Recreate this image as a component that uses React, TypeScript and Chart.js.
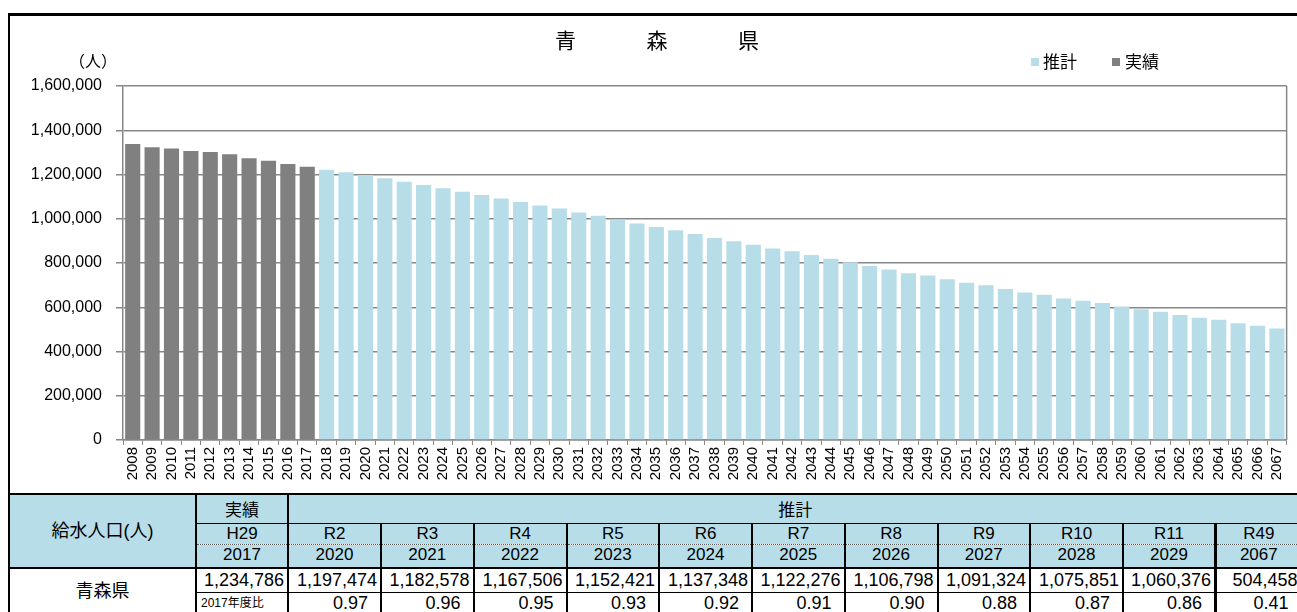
import React, { useEffect, useRef } from 'react';
import { Chart, registerables } from 'chart.js';

Chart.register(...registerables);

// ---------- data ----------
const categories = [
  '2008', '2009', '2010', '2011', '2012', '2013', '2014', '2015', '2016', '2017',
  '2018', '2019', '2020', '2021', '2022', '2023', '2024', '2025', '2026', '2027',
  '2028', '2029', '2030', '2031', '2032', '2033', '2034', '2035', '2036', '2037',
  '2038', '2039', '2040', '2041', '2042', '2043', '2044', '2045', '2046', '2047',
  '2048', '2049', '2050', '2051', '2052', '2053', '2054', '2055', '2056', '2057',
  '2058', '2059', '2060', '2061', '2062', '2063', '2064', '2065', '2066', '2067',
];

// 実績 2008-2017
const actualValues = [
  1338000, 1323000, 1317000, 1306000, 1302000, 1291000, 1273000, 1262000, 1247000, 1234786,
];

// 推計 2018-2067
const estimateValues = [
  1222000, 1210000, 1197474, 1182578, 1167506, 1152421, 1137348, 1122276, 1106798, 1091324,
  1075851, 1060376, 1046000, 1028000, 1013000, 997000, 979000, 963000, 948000, 931000,
  913000, 898000, 883000, 866000, 853000, 836000, 819000, 803000, 787000, 771000,
  754000, 743000, 727000, 711000, 700000, 683000, 667000, 656000, 640000, 629000,
  619000, 603000, 591000, 580000, 565000, 553000, 543000, 528000, 516000, 504458,
];

const yTickValues = [0, 200000, 400000, 600000, 800000, 1000000, 1200000, 1400000, 1600000];

const titleText = '青森県';
const unitLabel = '（人）';
const actualLabel = '実績';
const estimateLabel = '推計';

const tableLabel = '給水人口(人)';
const tableRowLabel = '青森県';
const tableRatioLabel = '2017年度比';
const tableEras = ['H29', 'R2', 'R3', 'R4', 'R5', 'R6', 'R7', 'R8', 'R9', 'R10', 'R11', 'R49'];
const tableYears = ['2017', '2020', '2021', '2022', '2023', '2024', '2025', '2026', '2027', '2028', '2029', '2067'];
const tableValues = [
  '1,234,786', '1,197,474', '1,182,578', '1,167,506', '1,152,421', '1,137,348',
  '1,122,276', '1,106,798', '1,091,324', '1,075,851', '1,060,376', '504,458',
];
const tableRatios = ['0.97', '0.96', '0.95', '0.93', '0.92', '0.91', '0.90', '0.88', '0.87', '0.86', '0.41'];

// ---------- styles ----------
const GREY = '#808080';
const BLUE = '#b7dde8';
const GRID = '#878787';
const SANS = '"Liberation Sans", Arial, sans-serif';
const CJK = '"Noto Sans CJK JP", sans-serif';
const TFONT = '"Liberation Sans", "Noto Sans CJK JP", sans-serif';

const decorPlugin = {
  id: 'decor',
  afterDraw(chart: any) {
    const ctx = chart.ctx;
    const a = chart.chartArea;
    ctx.save();
    // right frame of the plot
    ctx.strokeStyle = GRID;
    ctx.lineWidth = 1.5;
    ctx.beginPath();
    ctx.moveTo(a.right, a.top);
    ctx.lineTo(a.right, a.bottom);
    ctx.stroke();

    // title, widely spaced
    ctx.fillStyle = '#000';
    ctx.textAlign = 'center';
    ctx.textBaseline = 'middle';
    ctx.font = `21px ${CJK}`;
    const chars = Array.from(titleText);
    const cx = 647;
    const gap = 91.5;
    chars.forEach((c, i) => {
      ctx.fillText(c, cx + (i - (chars.length - 1) / 2) * gap, 24);
    });

    // unit label
    ctx.font = `16px ${CJK}`;
    ctx.fillText(unitLabel, 83, 45);

    // legend
    ctx.textAlign = 'left';
    ctx.font = `17px ${CJK}`;
    ctx.fillStyle = BLUE;
    ctx.fillRect(1021, 42, 8, 8);
    ctx.fillStyle = '#000';
    ctx.fillText(estimateLabel, 1033, 46);
    ctx.fillStyle = GREY;
    ctx.fillRect(1102, 42, 8, 8);
    ctx.fillStyle = '#000';
    ctx.fillText(actualLabel, 1115, 46);
    ctx.restore();
  },
};

const B = '2px solid #000';
const B1 = '1px solid #000';
const DOT = '1px dotted #555';

const baseCell: React.CSSProperties = {
  padding: 0,
  textAlign: 'center',
  verticalAlign: 'middle',
  lineHeight: '1',
  fontFamily: TFONT,
  fontSize: 17,
  whiteSpace: 'nowrap',
  overflow: 'hidden',
  color: '#000',
};

export default function App() {
  const ref = useRef<HTMLCanvasElement>(null);

  useEffect(() => {
    const actualData = categories.map((_, i) => (i < actualValues.length ? actualValues[i] : null));
    const estimateData = categories.map((_, i) =>
      i >= actualValues.length ? estimateValues[i - actualValues.length] : null,
    );
    const chart = new Chart(ref.current as HTMLCanvasElement, {
      type: 'bar',
      data: {
        labels: categories,
        datasets: [
          {
            label: actualLabel,
            data: actualData,
            backgroundColor: GREY,
            barPercentage: 0.78,
            categoryPercentage: 1.0,
            grouped: false,
          } as any,
          {
            label: estimateLabel,
            data: estimateData,
            backgroundColor: BLUE,
            barPercentage: 0.78,
            categoryPercentage: 1.0,
            grouped: false,
          } as any,
        ],
      },
      options: {
        animation: false,
        responsive: true,
        maintainAspectRatio: false,
        layout: { padding: { top: 70, right: 9, left: 0, bottom: 0 } },
        plugins: {
          legend: { display: false },
          title: { display: false },
          tooltip: { enabled: false },
        },
        scales: {
          x: {
            grid: {
              display: true,
              drawOnChartArea: false,
              drawTicks: true,
              tickLength: 5,
              color: GRID,
              offset: true,
            },
            border: { display: true, color: GRID, width: 1.5 },
            ticks: {
              minRotation: 90,
              maxRotation: 90,
              autoSkip: false,
              padding: 2,
              color: '#000',
              font: { family: SANS, size: 15 },
            },
            afterFit: (s: any) => {
              s.height = 52;
            },
          },
          y: {
            min: yTickValues[0],
            max: yTickValues[yTickValues.length - 1],
            afterBuildTicks: (s: any) => {
              s.ticks = yTickValues.map((v) => ({ value: v }));
            },
            ticks: {
              padding: 14,
              color: '#000',
              font: { family: SANS, size: 16 },
              callback: (v: any) => Number(v).toLocaleString('en-US'),
            },
            grid: { color: GRID, lineWidth: 1.5, tickLength: 7 },
            border: { display: true, color: GRID, width: 1.5 },
            afterFit: (s: any) => {
              s.width = 113;
            },
          },
        },
      },
      plugins: [decorPlugin],
    });
    return () => chart.destroy();
  }, []);

  const colWidths = [187, 92, 93, 92.5, 93, 92.5, 93, 92.5, 93, 92.5, 93, 92.5, 86];

  return (
    <div
      style={{
        position: 'fixed',
        left: 0,
        top: 0,
        width: 1297,
        height: 612,
        overflow: 'hidden',
        background: '#fff',
      }}
    >
      <div
        style={{
          position: 'absolute',
          left: 8,
          top: 13,
          width: 1320,
          height: 482,
          borderTop: '3px solid #000',
          borderLeft: '2px solid #000',
          boxSizing: 'border-box',
        }}
      />
      <div style={{ position: 'absolute', left: 10, top: 16, width: 1287, height: 476 }}>
        <canvas ref={ref} style={{ display: 'block' }} />
      </div>
      <table
        style={{
          position: 'absolute',
          left: 8,
          top: 493,
          borderCollapse: 'collapse',
          tableLayout: 'fixed',
          width: colWidths.reduce((a, b) => a + b, 0),
        }}
      >
        <colgroup>
          {colWidths.map((w, i) => (
            <col key={i} style={{ width: w }} />
          ))}
        </colgroup>
        <tbody>
          <tr style={{ height: 29 }}>
            <td rowSpan={3} style={{ ...baseCell, background: BLUE, fontSize: 18, border: B }}>
              {tableLabel}
            </td>
            <td style={{ ...baseCell, background: BLUE, borderTop: B, borderRight: B, borderBottom: B1, paddingTop: 4 }}>
              {actualLabel}
            </td>
            <td colSpan={11} style={{ ...baseCell, background: BLUE, borderTop: B, borderBottom: B1, paddingTop: 4 }}>
              {estimateLabel}
            </td>
          </tr>
          <tr style={{ height: 21 }}>
            {tableEras.map((e, i) => (
              <td
                key={i}
                style={{
                  ...baseCell,
                  background: BLUE,
                  borderTop: B1,
                  borderBottom: DOT,
                  borderLeft: i === tableEras.length - 1 ? '3px solid #000' : B,
                  borderRight: B,
                }}
              >
                {e}
              </td>
            ))}
          </tr>
          <tr style={{ height: 24 }}>
            {tableYears.map((y, i) => (
              <td
                key={i}
                style={{
                  ...baseCell,
                  background: BLUE,
                  borderTop: DOT,
                  borderBottom: B,
                  borderLeft: i === tableYears.length - 1 ? '3px solid #000' : B,
                  borderRight: B,
                  paddingBottom: 3,
                }}
              >
                {y}
              </td>
            ))}
          </tr>
          <tr style={{ height: 24 }}>
            <td rowSpan={2} style={{ ...baseCell, fontSize: 18, border: B, background: '#fff' }}>
              {tableRowLabel}
            </td>
            {tableValues.map((v, i) => (
              <td
                key={i}
                style={{
                  ...baseCell,
                  fontSize: 18,
                  textAlign: 'right',
                  paddingRight: 3,
                  borderTop: B,
                  borderBottom: B1,
                  borderLeft: i === tableValues.length - 1 ? '3px solid #000' : B,
                  borderRight: B,
                }}
              >
                {v}
              </td>
            ))}
          </tr>
          <tr style={{ height: 22 }}>
            <td
              style={{
                ...baseCell,
                fontSize: 12,
                textAlign: 'left',
                paddingLeft: 4,
                borderTop: B1,
                borderLeft: B,
                borderRight: B,
              }}
            >
              {tableRatioLabel}
            </td>
            {tableRatios.map((r, i) => (
              <td
                key={i}
                style={{
                  ...baseCell,
                  fontSize: 18,
                  textAlign: 'right',
                  paddingRight: 12,
                  borderTop: B1,
                  borderLeft: i === tableRatios.length - 1 ? '3px solid #000' : B,
                  borderRight: B,
                }}
              >
                {r}
              </td>
            ))}
          </tr>
        </tbody>
      </table>
    </div>
  );
}
